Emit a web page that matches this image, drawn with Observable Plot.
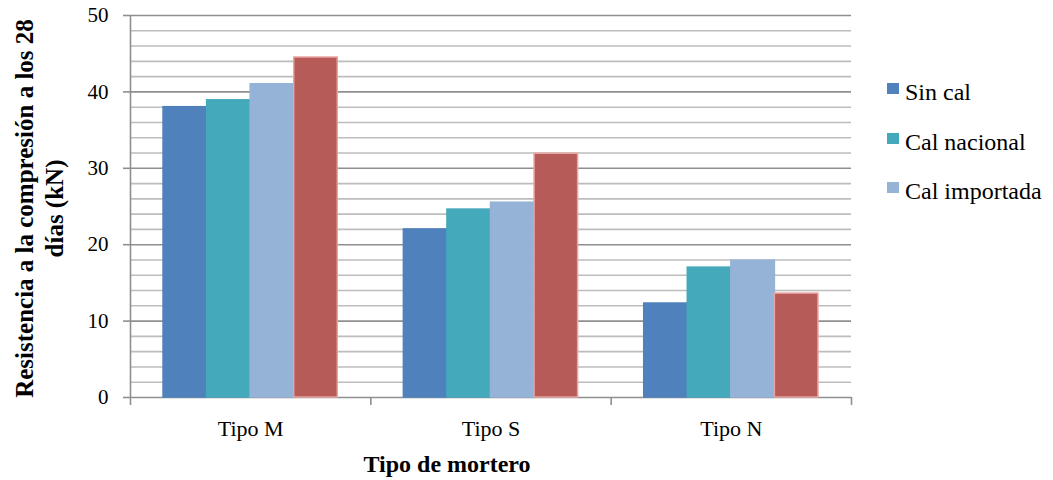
<!DOCTYPE html>
<html>
<head>
<meta charset="utf-8">
<script src="https://cdn.jsdelivr.net/npm/d3@7"></script>
<script src="https://cdn.jsdelivr.net/npm/@observablehq/plot@0.6"></script>
<style>
  body { margin: 0; background: #fff; }
  #wrap { position: relative; width: 1053px; height: 480px; }
  #legend { position: absolute; left: 887px; top: 68px; }
</style>
</head>
<body>
<div id="wrap"><div id="chart"></div><div id="legend"></div></div>
<script>
const grupos = ["Tipo M", "Tipo S", "Tipo N"];
const series = ["Sin cal", "Cal nacional", "Cal importada", "Serie 4"];
const enLeyenda = ["Sin cal", "Cal nacional", "Cal importada"];
const valores = {
  "Sin cal":       [38.0, 22.0, 12.3],
  "Cal nacional":  [38.9, 24.6, 17.0],
  "Cal importada": [41.0, 25.5, 17.9],
  "Serie 4":       [44.5, 31.9, 13.6]
};
const colores = ["#4F81BD", "#45A9BC", "#95B3D7", "#B65B57"];
const bordes = ["#4F81BD", "#45A9BC", "#95B3D7", "#E9A3A1"];
const ticksMayores = [0, 10, 20, 30, 40, 50];
const ticksMenores = d3.range(2, 50, 2).filter(v => v % 10 !== 0);
const fuente = "'Liberation Serif', 'Times New Roman', serif";

const pad = 0.1375;
const w = (1 - 2 * pad) / series.length;
const datos = [];
grupos.forEach((g, gi) => series.forEach((s, si) => {
  datos.push({grupo: g, serie: s, valor: valores[s][gi], x1: gi + pad + si * w, x2: gi + pad + (si + 1) * w});
}));

const chart = Plot.plot({
  width: 1053,
  height: 480,
  marginLeft: 130,
  marginRight: 202,
  marginTop: 15,
  marginBottom: 83,
  style: {fontFamily: fuente, color: "#000", background: "#fff"},
  x: {domain: [0, grupos.length], axis: null, label: null},
  y: {domain: [0, 50], axis: null, label: null},
  color: {domain: series, range: colores},
  marks: [
    Plot.ruleY(ticksMenores, {stroke: "#bdbdbd", strokeWidth: 1.6}),
    Plot.ruleY(ticksMayores, {stroke: "#8f8f8f", strokeWidth: 1.6}),
    Plot.rectY(datos, {x1: "x1", x2: "x2", y1: 0, y2: "valor", fill: "serie", stroke: d => bordes[series.indexOf(d.serie)], strokeWidth: 1.5}),
    Plot.ruleX([0], {y1: 0, y2: 50, stroke: "#8f8f8f", strokeWidth: 1.6}),
    Plot.axisY({ticks: ticksMayores, label: null, tickSize: 7, tickPadding: 15, fontSize: 21, stroke: "#8f8f8f", strokeWidth: 1.6, fill: "#000", tickFormat: d3.format("d")}),
    Plot.axisX({ticks: d3.range(0, grupos.length + 1), label: null, tickSize: 8, tickFormat: () => "", stroke: "#8f8f8f", strokeWidth: 1.6}),
    Plot.axisX({ticks: grupos.map((g, i) => i + 0.5), label: null, tickSize: 0, tickPadding: 23, fontSize: 22, fill: "#000", tickFormat: d => grupos[Math.floor(d)]}),
    Plot.text(["Tipo de mortero"], {frameAnchor: "bottom", dx: -44, dy: 67, fontSize: 24, fontWeight: "bold", fill: "#000", lineAnchor: "middle"}),
    Plot.text(["Resistencia a la compresión a los 28\ndías (kN)"], {frameAnchor: "left", dx: -92, dy: 2, rotate: -90, fontSize: 25, fontWeight: "bold", fill: "#000", textAnchor: "middle", lineAnchor: "middle", lineHeight: 1.2})
  ]
});
document.getElementById("chart").appendChild(chart);

const leg = d3.select("#legend");
enLeyenda.forEach(s => {
  const it = leg.append("div")
    .style("line-height", "49.5px").style("white-space", "nowrap")
    .style("font-family", fuente).style("font-size", "24px").style("color", "#000");
  it.append("span").style("display", "inline-block").style("width", "12px").style("height", "11px")
    .style("margin-right", "6px").style("vertical-align", "6px")
    .style("background", colores[series.indexOf(s)]);
  it.append("span").text(s);
});
</script>
</body>
</html>
